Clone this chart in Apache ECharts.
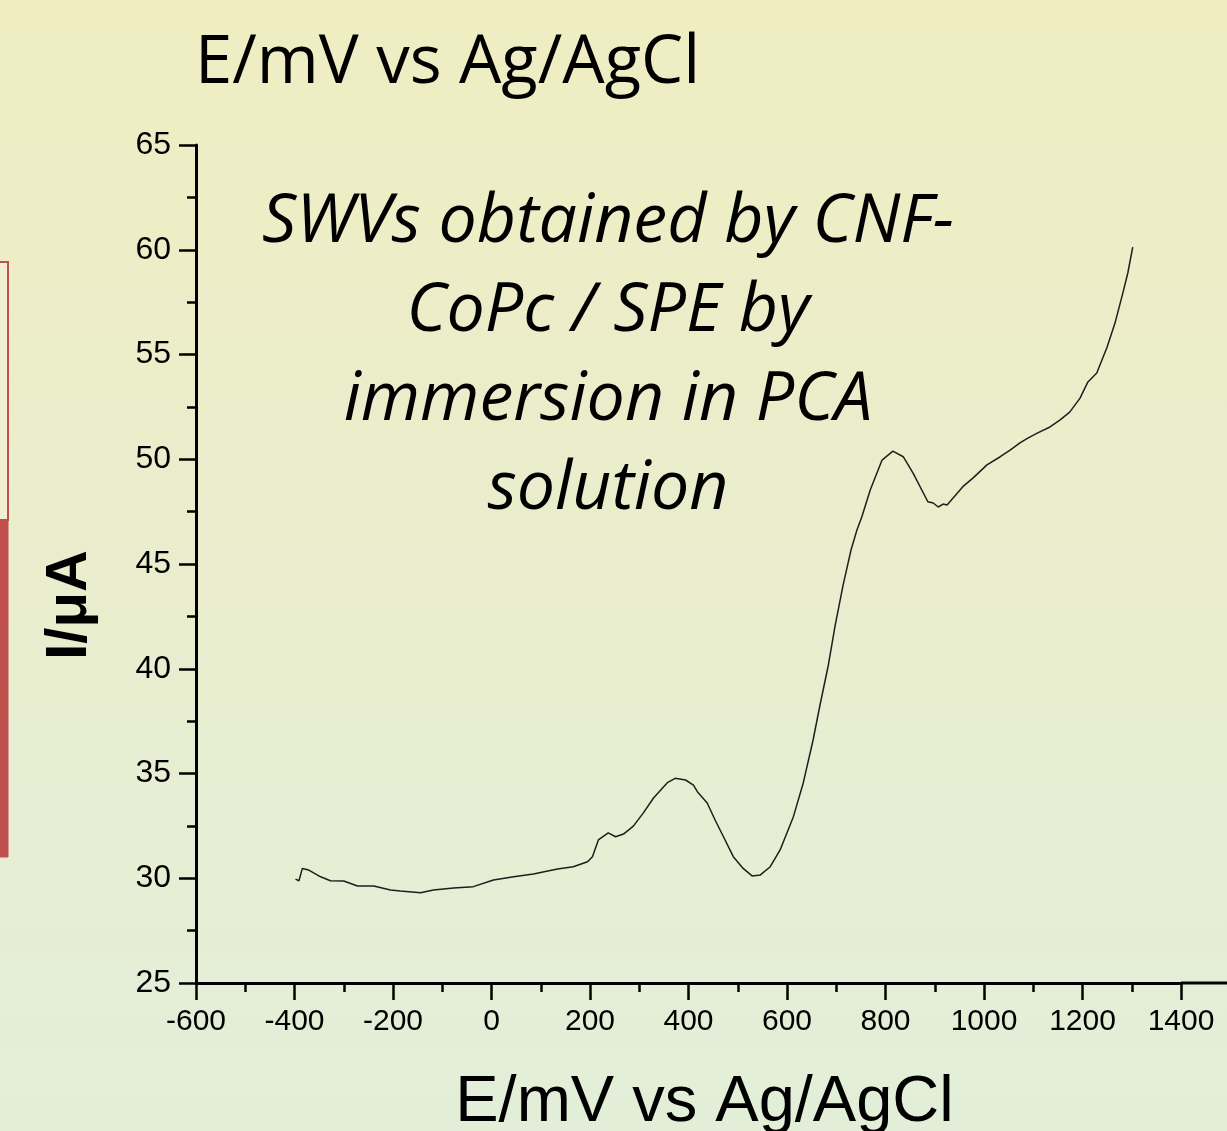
<!DOCTYPE html>
<html>
<head>
<meta charset="utf-8">
<script src="https://cdn.jsdelivr.net/npm/echarts@6/dist/echarts.min.js"></script>
<style>
  html, body { margin: 0; padding: 0; }
  #chart { width: 1227px; height: 1131px; }
</style>
</head>
<body>
<div id="chart"></div>
<script>
// potential (mV vs Ag/AgCl) and current (uA)
const potential = [
  -398, -391, -384, -371, -347, -327, -300, -272, -239, -205, -185, -144,
  -118, -77, -37, 4, 45, 85, 134, 166, 195, 205, 217, 237, 252, 268, 288,
  308, 329, 357, 373, 394, 410, 418, 438, 454, 471, 491, 511, 529, 546,
  566, 586, 613, 633, 653, 667, 684, 698, 714, 730, 742, 752, 769, 793,
  815, 836, 856, 886, 897, 907, 917, 925, 957, 978, 1006, 1033, 1053,
  1073, 1089, 1108, 1134, 1154, 1174, 1195, 1211, 1229, 1250, 1266,
  1282, 1292, 1302
];
const current = [
  29.96, 29.88, 30.47, 30.39, 30.07, 29.88, 29.87, 29.63, 29.63, 29.44,
  29.39, 29.31, 29.44, 29.53, 29.60, 29.92, 30.07, 30.20, 30.44, 30.55,
  30.79, 31.03, 31.83, 32.17, 31.98, 32.11, 32.49, 33.11, 33.83, 34.56,
  34.77, 34.69, 34.45, 34.13, 33.59, 32.78, 31.98, 31.03, 30.47, 30.11,
  30.16, 30.55, 31.35, 32.94, 34.55, 36.60, 38.27, 40.18, 42.09, 44.00,
  45.67, 46.62, 47.26, 48.53, 49.96, 50.39, 50.12, 49.34, 47.97, 47.91,
  47.72, 47.86, 47.82, 48.69, 49.11, 49.73, 50.12, 50.44, 50.78, 51.01,
  51.25, 51.54, 51.87, 52.25, 52.92, 53.69, 54.12, 55.36, 56.50, 57.94,
  58.89, 60.13
];

const xTicks = { min: -600, max: 1400, step: 200 };
const yTicks = { min: 25, max: 65, step: 5 };

const titleText = 'E/mV vs Ag/AgCl';
const xName = 'E/mV vs Ag/AgCl';
const yName = 'I/\u03bcA';
const noteLines = [
  'SWVs obtained by CNF-',
  'CoPc / SPE by',
  'immersion in PCA',
  'solution'
];

const arial = '"Liberation Sans", Arial, sans-serif';
const chart = echarts.init(document.getElementById('chart'));

const option = {
  animation: false,
  backgroundColor: {
    type: 'linear', x: 0, y: 0, x2: 0, y2: 1,
    colorStops: [
      { offset: 0, color: '#f0edc2' },
      { offset: 1, color: '#e3eed9' }
    ]
  },
  grid: { left: 196, top: 145, right: 46, bottom: 148, outerBoundsMode: 'none', containLabel: false },
  xAxis: {
    type: 'value',
    min: xTicks.min, max: xTicks.max, interval: xTicks.step,
    name: xName,
    nameLocation: 'middle',
    nameGap: 88,
    nameTextStyle: { fontFamily: arial, fontSize: 65, color: '#000', padding: [0, 0, 0, 32] },
    axisLine: { onZero: false, lineStyle: { color: '#000', width: 3 } },
    axisTick: { show: true, length: 17, lineStyle: { color: '#000', width: 2.5 } },
    minorTick: { show: true, splitNumber: 2, length: 9, lineStyle: { color: '#000', width: 2.5 } },
    axisLabel: { fontFamily: arial, fontSize: 30, color: '#000', margin: 24, formatter: v => String(v) },
    splitLine: { show: false }
  },
  yAxis: {
    type: 'value',
    min: yTicks.min, max: yTicks.max, interval: yTicks.step,
    axisLine: { show: true, onZero: false, lineStyle: { color: '#000', width: 3 } },
    axisTick: { show: true, length: 17, lineStyle: { color: '#000', width: 2.5 } },
    minorTick: { show: true, splitNumber: 2, length: 9, lineStyle: { color: '#000', width: 2.5 } },
    axisLabel: { fontFamily: arial, fontSize: 32, color: '#000', margin: 25, formatter: v => String(v) },
    splitLine: { show: false }
  },
  series: [{
    type: 'line',
    data: potential.map((x, i) => [x, current[i]]),
    showSymbol: false,
    lineStyle: { color: '#1e1e1e', width: 1.5 },
    z: 5
  }],
  graphic: [
    // stub of the x axis running past 1400
    { type: 'line', shape: { x1: 1181, y1: 983, x2: 1227, y2: 983 },
      style: { stroke: '#000', lineWidth: 3 } },
    // slide decoration at the left edge
    { type: 'rect', shape: { x: -2, y: 262, width: 10, height: 258 },
      style: { fill: '#f3efd2', stroke: '#c0504d', lineWidth: 2 } },
    { type: 'rect', shape: { x: -2, y: 520, width: 10, height: 337 },
      style: { fill: '#c0504d', stroke: '#c0504d', lineWidth: 1 } },
    { type: 'text', x: 195, y: 30,
      style: { text: titleText, font: '67px "Open Sans", sans-serif', fill: '#000', verticalAlign: 'top' } },
    { type: 'text', x: 70, y: 605, rotation: Math.PI / 2,
      style: { text: yName, font: 'bold 58px ' + arial, fill: '#000', align: 'center', verticalAlign: 'middle' } },
    { type: 'text', x: 608, y: 178,
      style: {
        text: noteLines.join('\n'),
        font: 'italic 68px "Open Sans", sans-serif',
        lineHeight: 89,
        fill: '#000', align: 'center', verticalAlign: 'top'
      } }
  ]
};

chart.setOption(option);
</script>
</body>
</html>
